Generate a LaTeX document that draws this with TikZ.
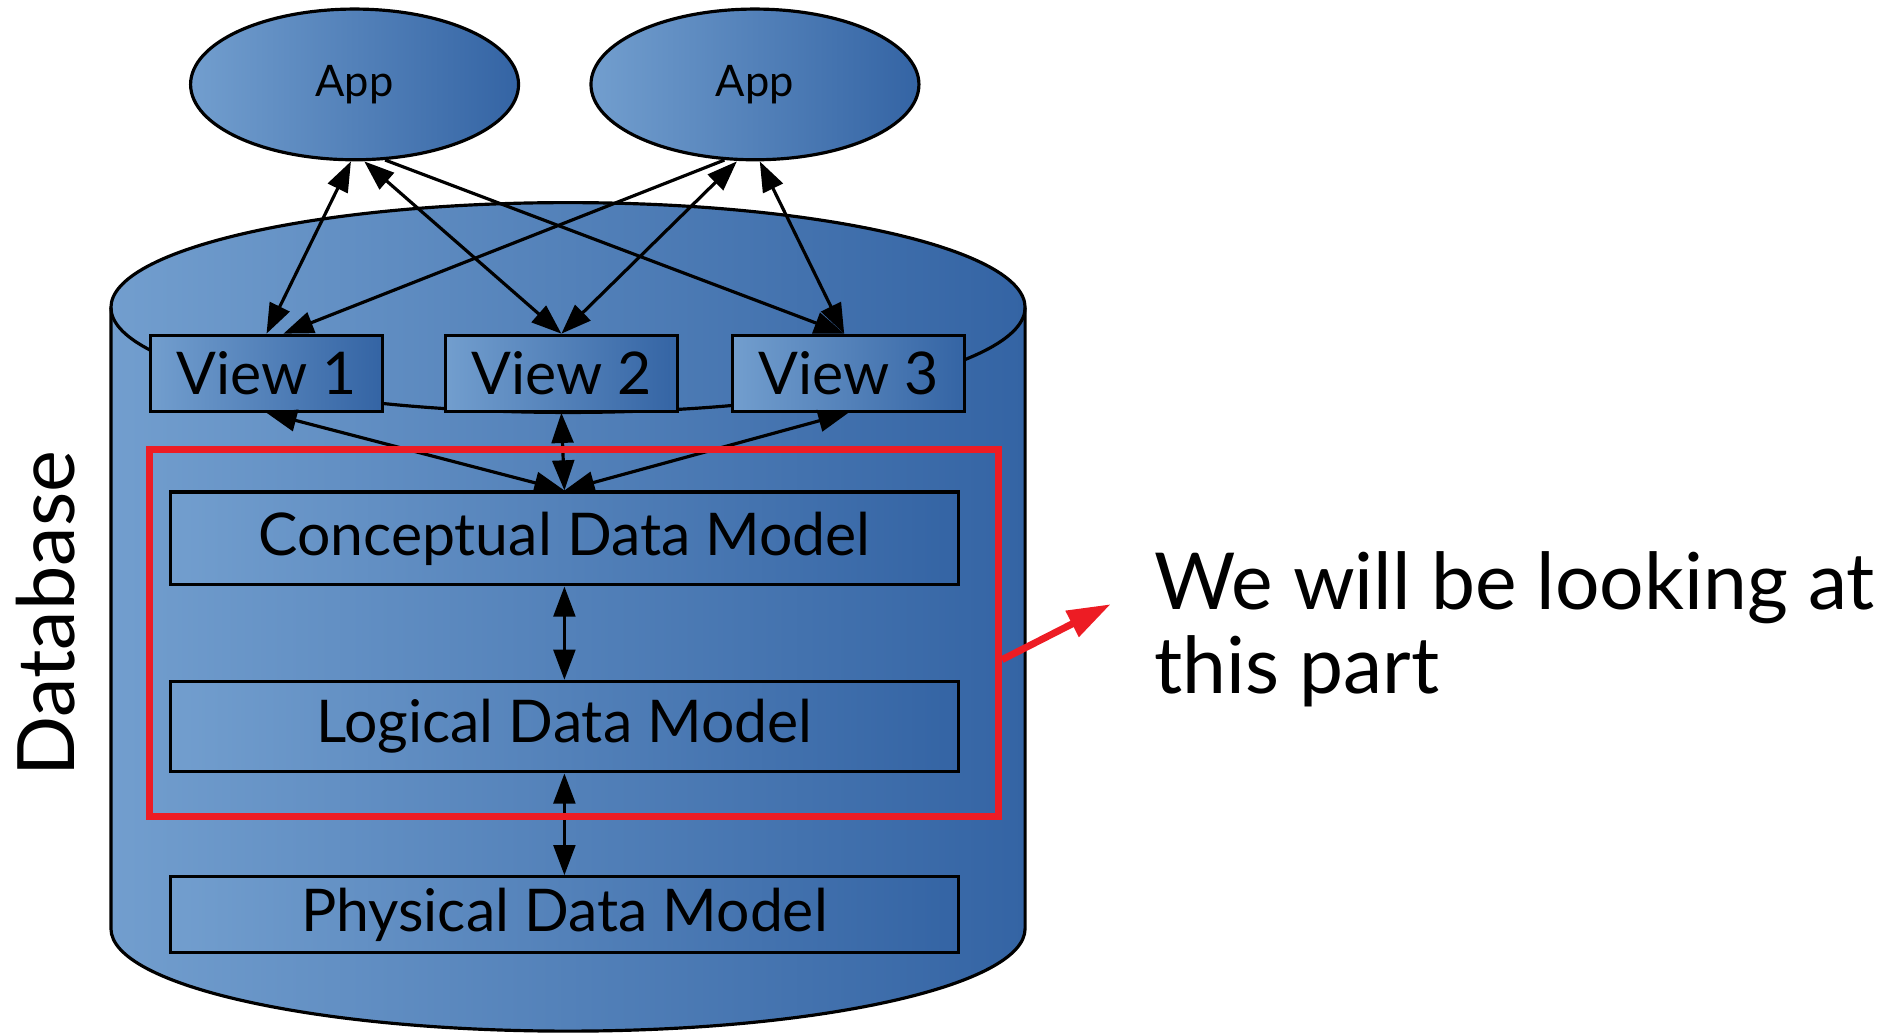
\documentclass[tikz,border=0pt]{standalone}
\usepackage{fontspec}
\setmainfont{Lato}
\usetikzlibrary{arrows.meta,shapes.geometric}
\definecolor{gl}{RGB}{114,158,206}
\definecolor{gr}{RGB}{52,100,164}
\definecolor{hl}{RGB}{237,28,36}
\begin{document}
\begin{tikzpicture}[x=0.02cm,y=-0.02cm,
  gfill/.style={left color=gl,right color=gr},
  ln/.style={line width=1.5pt},
  box/.style={draw,ln,gfill,rectangle,inner sep=0pt,font=\fontsize{27.8}{30}\selectfont},
  appnode/.style={draw,ln,gfill,ellipse,inner sep=0pt,minimum width=5.44cm,minimum height=2.5cm,font=\fontsize{20.5}{24}\selectfont},
  dbl/.style={ln,{Triangle[length=0.5cm,width=0.36cm]}-{Triangle[length=0.5cm,width=0.36cm]}},
  one/.style={ln,-{Triangle[length=0.5cm,width=0.36cm]}}]
\useasboundingbox (0,0) rectangle (1568,858);
% cylinder body
\fill[gfill] (92,255) -- (92,770) arc[start angle=180,end angle=0,x radius=379,y radius=85]
  -- (850,255) arc[start angle=0,end angle=-180,x radius=379,y radius=87] -- cycle;
\draw[ln] (92,255) -- (92,770) arc[start angle=180,end angle=0,x radius=379,y radius=85] -- (850,255);
\draw[ln] (471,255) ellipse[x radius=379,y radius=87];
% nodes
\node[appnode] (a1) at (294,70) {App};
\node[appnode] (a2) at (626,70) {App};
\node[box,minimum width=3.84cm,minimum height=1.26cm] (v1) at (221,309.5) {View 1};
\node[box,minimum width=3.84cm,minimum height=1.26cm] (v2) at (465.5,309.5) {View 2};
\node[box,minimum width=3.84cm,minimum height=1.26cm] (v3) at (703.5,309.5) {View 3};
\node[box,minimum width=13.08cm,minimum height=1.54cm] (c) at (468,446.5) {Conceptual Data Model};
\node[box,minimum width=13.08cm,minimum height=1.5cm] (l) at (468,602.5) {Logical Data Model};
\node[box,minimum width=13.08cm,minimum height=1.26cm] (p) at (468,758.5) {Physical Data Model};
% connectors
\draw[dbl] ([xshift=-0.06cm]a1.south) -- (v1.north);
\draw[dbl] ([xshift=0.16cm]a1.south) -- (v2.north);
\draw[one] (a1.-68) -- ([xshift=-0.07cm]v3.north);
\draw[one] (a2.-112) -- ([xshift=0.28cm]v1.north);
\draw[dbl] ([xshift=-0.3cm]a2.south) -- (v2.north);
\draw[dbl] ([xshift=0.08cm]a2.south) -- ([xshift=-0.07cm]v3.north);
\draw[dbl] (v1.south) -- (c.north);
\draw[dbl] (v2.south) -- (c.north);
\draw[dbl] (v3.south) -- (c.north);
\draw[dbl] (c.south) -- (l.north);
\draw[dbl] (l.south) -- (p.north);
% highlight
\node[draw=hl,line width=3.3pt,rectangle,inner sep=0pt,minimum width=14.08cm,minimum height=6.08cm] (sel) at (476,525) {};
\coordinate (tipend) at (921,501);
\draw[hl,line width=3.3pt,-{Triangle[length=0.72cm,width=0.46cm]}] ([yshift=-0.44cm]sel.east) -- (tipend);
% texts
\node[rotate=90,font=\fontsize{37.4}{40}\selectfont,inner sep=0pt] (db) at (38,509) {Database};
\node[anchor=north west,align=left,inner sep=0pt,font=\fontsize{37.1}{39.8}\selectfont] (note) at (957,457) {We will be looking at\\this part};
\end{tikzpicture}
\end{document}
